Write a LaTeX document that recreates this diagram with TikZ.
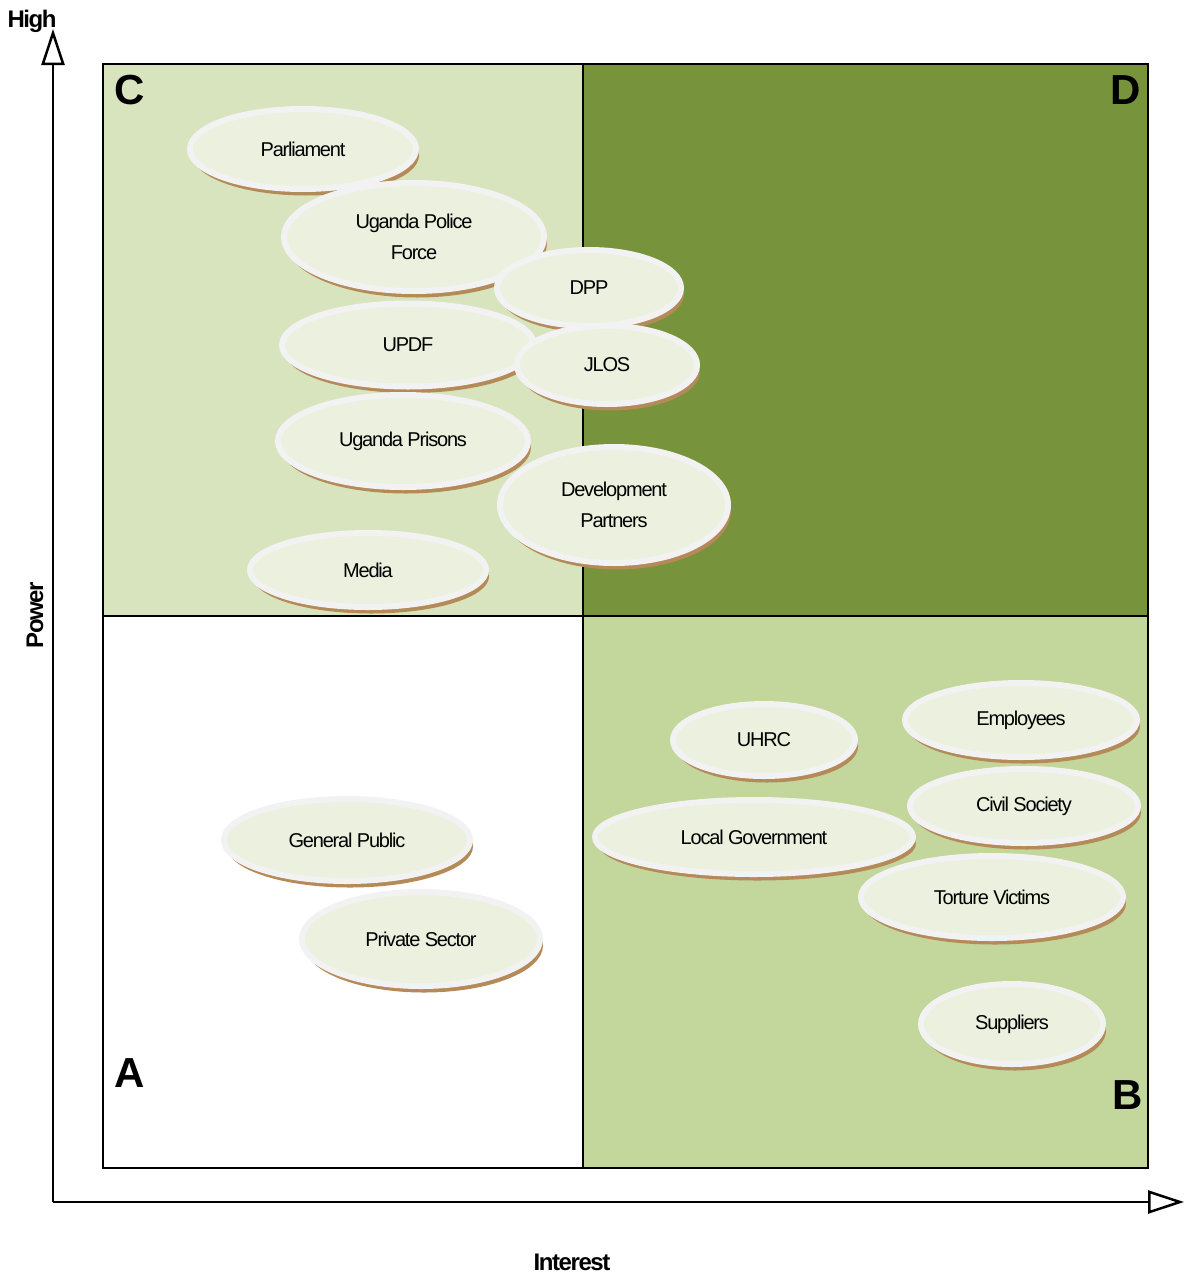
\documentclass[tikz,border=0pt]{standalone}
\usepackage{fontspec}
\setmainfont{Liberation Sans}[LetterSpace=-6]
\usetikzlibrary{shapes.geometric,shadows,arrows.meta}

\definecolor{quadC}{HTML}{D7E4BD}
\definecolor{quadD}{HTML}{77933C}
\definecolor{quadB}{HTML}{C3D69B}
\definecolor{ovalfill}{HTML}{EBF1DE}
\definecolor{ovalrim}{HTML}{F2F2F2}
\definecolor{ovalshade}{HTML}{B48A58}

\tikzset{
  oval/.style={ellipse, fill=ovalfill, draw=ovalrim, line width=6pt,
    inner sep=0pt, align=center, font=\fontsize{20}{31}\selectfont,
    drop shadow={shadow xshift=3pt, shadow yshift=-6.5pt, fill=ovalshade, opacity=1}},
  quadlabel/.style={font=\fontsize{42}{42}\selectfont\bfseries},
  axislabel/.style={font=\fontsize{24}{24}\selectfont\bfseries},
  axisline/.style={line width=2.5pt, -{Triangle[open, length=36pt, width=23pt]}},
}

\begin{document}
\begin{tikzpicture}[x=1pt,y=-1pt]
  \useasboundingbox (0,0) rectangle (1184,1274);

  % Quadranten
  \fill[quadC] (103,64) rectangle (583,616);
  \fill[quadD] (583,64) rectangle (1148,616);
  \fill[white] (103,616) rectangle (583,1168);
  \fill[quadB] (583,616) rectangle (1148,1168);
  \draw[line width=2pt] (103,64) rectangle (1148,1168);
  \draw[line width=2pt] (583,64) -- (583,1168);
  \draw[line width=2pt] (103,616) -- (1148,616);

  \node[quadlabel] (lblC) at (130,90) {C};
  \node[quadlabel] (lblD) at (1126,90) {D};
  \node[quadlabel] (lblA) at (130,1073) {A};
  \node[quadlabel] (lblB) at (1128,1095) {B};

  % Achsen
  \coordinate (origin) at (53,1202);
  \coordinate (ytop) at (53,29);
  \coordinate (xend) at (1184,1202);
  \draw[axisline] (origin) -- (ytop);
  \draw[axisline] (origin) -- (xend);
  \node[axislabel] (high) at (32,21) {High};
  \node[axislabel, rotate=90] (power) at (35,615) {Power};
  \node[axislabel] (interest) at (572,1262) {Interest};

  % Stakeholder oben
  \node[oval, minimum width=226pt, minimum height=80pt] (parliament) at (303,149) {Parliament};
  \node[oval, minimum width=260pt, minimum height=108pt] (police) at (414,237) {Uganda Police\\Force};
  \node[oval, minimum width=184pt, minimum height=76pt] (dpp) at (589,288) {DPP};
  \node[oval, minimum width=252pt, minimum height=83pt] (updf) at (408,345) {UPDF};
  \node[oval, minimum width=180pt, minimum height=78pt] (jlos) at (607,365) {JLOS};
  \node[oval, minimum width=250pt, minimum height=92pt] (prisons) at (403,441) {Uganda Prisons};
  \node[oval, minimum width=228pt, minimum height=116pt] (devpartners) at (614,505) {Development\\Partners};
  \node[oval, minimum width=236pt, minimum height=74pt] (media) at (368,570) {Media};

  % Stakeholder unten
  \node[oval, minimum width=182pt, minimum height=72pt] (uhrc) at (764,740) {UHRC};
  \node[oval, minimum width=232pt, minimum height=74pt] (employees) at (1021,720) {Employees};
  \node[oval, minimum width=228pt, minimum height=74pt] (civil) at (1024,806) {Civil Society};
  \node[oval, minimum width=318pt, minimum height=74pt] (localgov) at (754,837) {Local Government};
  \node[oval, minimum width=262pt, minimum height=82pt] (torture) at (992,897) {Torture Victims};
  \node[oval, minimum width=182pt, minimum height=80pt] (suppliers) at (1012,1024) {Suppliers};
  \node[oval, minimum width=246pt, minimum height=82pt] (public) at (347,840) {General Public};
  \node[oval, minimum width=238pt, minimum height=94pt] (private) at (421,939) {Private Sector};
\end{tikzpicture}
\end{document}
